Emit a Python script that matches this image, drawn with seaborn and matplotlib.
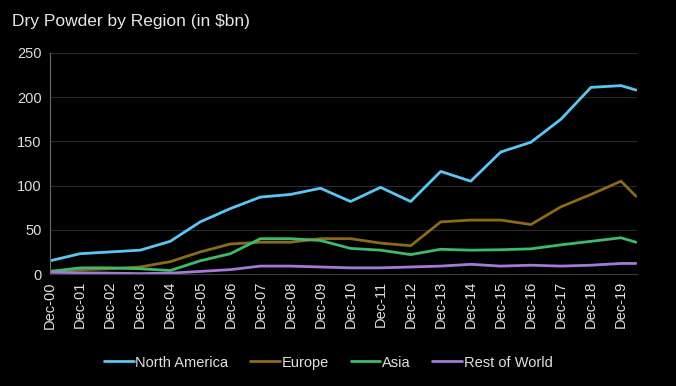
import matplotlib
matplotlib.use("Agg")
import matplotlib.pyplot as plt
import matplotlib.dates as mdates
import numpy as np
import pandas as pd
import seaborn as sns

# year-end points, plus the mid-2020 reading at the end
dates = pd.to_datetime([f"{y}-12-31" for y in range(2000, 2020)] + ["2020-06-30"])
north_america = [15, 23, 25, 27, 37, 59, 74, 87, 90, 97, 82, 98, 82, 116, 105, 138, 149, 175, 211, 213, 208]
europe = [3, 5, 6, 8, 14, 25, 34, 36, 36, 40, 40, 35, 32, 59, 61, 61, 56, 76, 90, 105, 88]
asia = [3, 7, 7, 6, 4, 15, 23, 40, 40, 38, 29, 27, 22, 28, 27, 27.5, 28.5, 33, 37, 41, 36]
rest_of_world = [2, 1.5, 1, 0.5, 1, 3, 5, 9, 9, 8, 7, 7, 8, 9, 11, 9, 10, 9, 10, 12, 12]

regions = ["North America", "Europe", "Asia", "Rest of World"]
colours = ["#5cc6f2", "#8c6a16", "#3dbb6c", "#a47ad6"]

df = pd.DataFrame({
    "date": np.tile(dates, 4),
    "value": north_america + europe + asia + rest_of_world,
    "region": np.repeat(regions, len(dates)),
})

sns.set_style("dark")
plt.rcParams["font.family"] = ["Liberation Sans", "DejaVu Sans"]

fig = plt.figure(figsize=(6.76, 3.86), dpi=100, facecolor="black")
ax = fig.add_axes([0.074, 0.29, 0.868, 0.573], facecolor="black")

sns.lineplot(data=df, x="date", y="value", hue="region", palette=colours,
             hue_order=regions, linewidth=2, ax=ax, legend=True)

ax.set_ylim(0, 250)
ax.set_yticks(range(0, 251, 50))
ax.set_xlim(dates[0], dates[-1] + pd.Timedelta(days=10))
ax.set_xticks(dates[:-1])
ax.xaxis.set_major_formatter(mdates.DateFormatter("%b-%y"))
ax.tick_params(axis="x", rotation=90, labelcolor="#e0e0e0", color="#555555",
               labelsize=10.5, length=3, pad=2)
ax.tick_params(axis="y", labelcolor="#dcdcdc", labelsize=10.5, length=0, pad=6)

ax.grid(axis="y", color="#2a2a2a", linewidth=0.8)
ax.grid(axis="x", visible=False)
for side in ["top", "right"]:
    ax.spines[side].set_visible(False)
ax.spines["left"].set_color("#6a6a6a")
ax.spines["bottom"].set_color("#3a3a3a")
ax.set_xlabel("")
ax.set_ylabel("")

leg = ax.legend(loc="center", bbox_to_anchor=(0.474, -0.40), ncol=4, frameon=False,
                fontsize=10.5, handlelength=2.05, handletextpad=0.1, columnspacing=1.5)
for t in leg.get_texts():
    t.set_color("#e0e0e0")

fig.text(0.018, 0.945, "Dry Powder by Region (in $bn)", color="#e6e6e6", fontsize=12.5,
         ha="left", va="center")

fig.savefig("out.png", dpi=100, facecolor="black")
